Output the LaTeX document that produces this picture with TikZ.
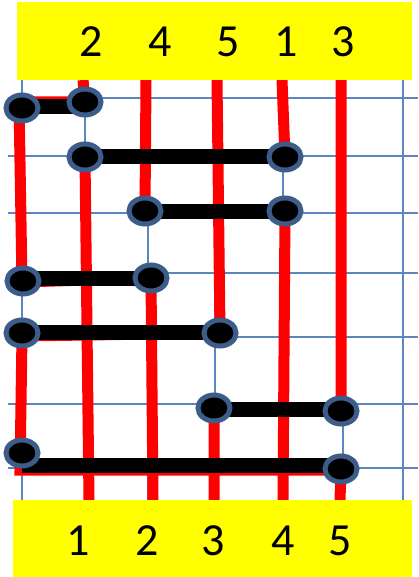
\documentclass[tikz,border=0pt]{standalone}
\usepackage{fontspec}
\setmainfont{Carlito}
\usetikzlibrary{shapes.geometric,backgrounds}
\definecolor{gridblue}{RGB}{91,134,192}
\definecolor{ringblue}{RGB}{60,92,138}
\definecolor{ylw}{RGB}{255,255,0}
\begin{document}
\begin{tikzpicture}[x=1pt,y=-1pt,
  rung/.style={ellipse,draw=ringblue,line width=5pt,fill=black,minimum width=32pt,minimum height=26pt,inner sep=0pt},
  bar/.style={line width=15pt,black},
  redpath/.style={line width=11pt,red,line join=miter},
  gridline/.style={gridblue,line width=1.5pt},
  lab/.style={font=\fontsize{46}{46}\selectfont,anchor=base,inner sep=0pt},
  ybox/.style={fill=ylw,inner sep=0pt,anchor=north west}]
\useasboundingbox (0,0) rectangle (418,577);
% yellow boxes
\node[ybox,minimum width=395pt,minimum height=78pt] (topbox) at (17,2) {};
\node[ybox,minimum width=399pt,minimum height=77pt] (botbox) at (13,500) {};
% labels
\node[lab] (t1) at (91,57) {2};
\node[lab] (t2) at (160,57) {4};
\node[lab] (t3) at (228,57) {5};
\node[lab] (t4) at (286,57) {1};
\node[lab] (t5) at (343,57) {3};
\node[lab] (b1) at (78,555) {1};
\node[lab] (b2) at (147,555) {2};
\node[lab] (b3) at (213,555) {3};
\node[lab] (b4) at (283,555) {4};
\node[lab] (b5) at (340,555) {5};
% rungs
\node[rung] (n1a) at (22,108) {};
\node[rung] (n1b) at (85,102) {};
\node[rung] (n2a) at (85,157) {};
\node[rung] (n2b) at (285,157) {};
\node[rung] (n3a) at (145,211) {};
\node[rung] (n3b) at (285,211) {};
\node[rung] (n4a) at (23,281) {};
\node[rung] (n4b) at (151,278) {};
\node[rung] (n5a) at (22,333) {};
\node[rung] (n5b) at (220,333) {};
\node[rung] (n6a) at (214,408) {};
\node[rung] (n6b) at (341,411) {};
\node[rung] (n7a) at (22,453) {};
\node[rung] (n7b) at (341,469) {};
% path ends and bends
\coordinate (s1) at (83,80);  \coordinate (e1) at (153,500);
\coordinate (s2) at (146,80); \coordinate (e2) at (283,500);
\coordinate (s3) at (217,80); \coordinate (e3) at (340,500);
\coordinate (s4) at (282,80); \coordinate (e4) at (89,500);
\coordinate (s5) at (341,80); \coordinate (e5) at (214,500);
\coordinate (r1) at (19,102);
\coordinate (r4) at (22,282);
\coordinate (r5) at (22,336);
\coordinate (r7) at (20,470);
\coordinate (q7) at (341,470);
% bar levels
\coordinate (m1) at (85,107);
\coordinate (m4) at (151,278);
\coordinate (m5) at (220,332);
\coordinate (m6) at (341,409);
\coordinate (m7) at (341,465);
\begin{scope}[on background layer]
  % grid
  \foreach \gx in {22,85,148,215,283,343,403}
    \draw[gridline] (\gx,80) -- (\gx,500);
  \foreach \gy in {98,156,213,273,337,404,468}
    \draw[gridline] (8,\gy) -- (418,\gy);
  % red paths
  \draw[redpath] (s1) -- (n1b.center) -- (r1) -- (r4) -- (n4b.center) -- (e1);
  \draw[redpath] (s2) -- (n3a.center) -- (n3b.center) -- (e2);
  \draw[redpath] (s3) -- (n5b.center) -- (r5) -- (r7) -- (q7) -- (e3);
  \draw[redpath] (s4) -- (n2b.center) -- (n2a.center) -- (e4);
  \draw[redpath] (s5) -- (n6b.center) -- (n6a.center) -- (e5);
  % bars
  \draw[bar] (m1 -| n1a.center) -- (m1);
  \draw[bar] (n2a.center) -- (n2b.center);
  \draw[bar] (n3a.center) -- (n3b.center);
  \draw[bar] (m4 -| n4a.center) -- (m4);
  \draw[bar] (m5 -| n5a.center) -- (m5);
  \draw[bar] (m6 -| n6a.center) -- (m6);
  \draw[bar] (m7 -| n7a.center) -- (m7);
\end{scope}
\end{tikzpicture}
\end{document}
